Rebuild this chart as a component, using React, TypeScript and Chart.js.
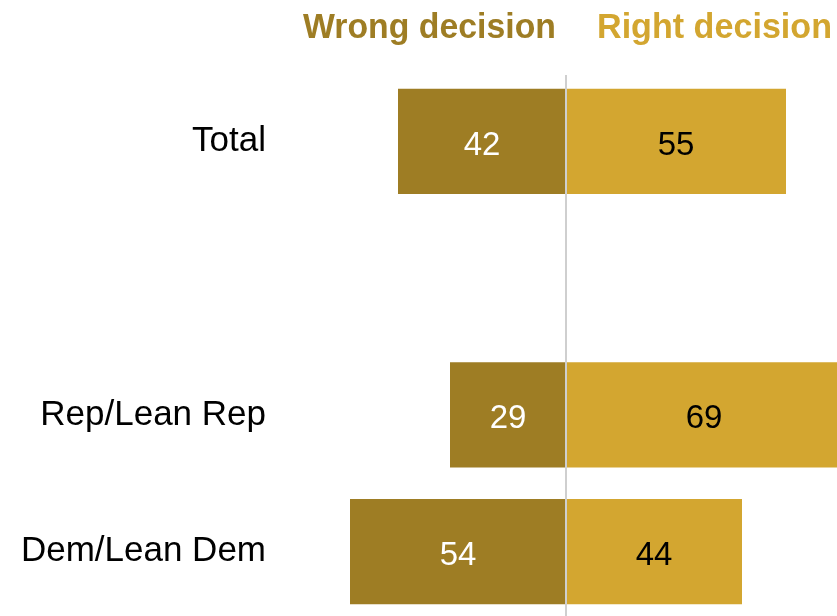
import React, { useEffect, useRef } from "react";
import { Chart, registerables } from "chart.js";

Chart.register(...registerables);

const categories = ["Total", "", "Rep/Lean Rep", "Dem/Lean Dem"];
const wrongValues = [42, null, 29, 54];
const rightValues = [55, null, 69, 44];
const seriesNames = ["Wrong decision", "Right decision"];

const WRONG_COLOR = "#9e7d24";
const RIGHT_COLOR = "#d3a630";

function fitText(ctx: any, text: string, x: number, y: number, width: number, align: "left" | "right") {
  const w = ctx.measureText(text).width;
  const s = width / w;
  ctx.save();
  ctx.translate(x, y);
  ctx.scale(s, 1);
  ctx.textAlign = align;
  ctx.fillText(text, 0, 0);
  ctx.restore();
}

export default function App() {
  const ref = useRef<HTMLCanvasElement>(null);

  useEffect(() => {
    document.body.style.margin = "0";
    const canvas = ref.current;
    if (!canvas) return;

    const overlay = {
      id: "overlay",
      afterDatasetsDraw(chart: any) {
        const ctx = chart.ctx;
        const xs = chart.scales.x;
        const x0 = xs.getPixelForValue(0);
        ctx.save();
        // center line
        ctx.strokeStyle = "#cfcfcf";
        ctx.lineWidth = 2;
        ctx.beginPath();
        ctx.moveTo(x0, 75);
        ctx.lineTo(x0, chart.height);
        ctx.stroke();
        // headers
        ctx.font = "bold 35px 'Liberation Sans', Arial, sans-serif";
        ctx.textBaseline = "alphabetic";
        ctx.fillStyle = WRONG_COLOR;
        fitText(ctx, seriesNames[0], x0 - 10, 38, 253, "right");
        ctx.fillStyle = RIGHT_COLOR;
        fitText(ctx, seriesNames[1], x0 + 31, 38, 235, "left");
        // value labels
        ctx.font = "33px 'Liberation Sans', Arial, sans-serif";
        ctx.textAlign = "center";
        ctx.textBaseline = "alphabetic";
        chart.data.datasets.forEach((ds: any, di: number) => {
          const meta = chart.getDatasetMeta(di);
          meta.data.forEach((bar: any, i: number) => {
            const v = ds.data[i];
            if (v === null || v === undefined) return;
            const cx = (bar.x + bar.base) / 2;
            ctx.fillStyle = di === 0 ? "#ffffff" : "#000000";
            ctx.fillText(String(Math.abs(v)), cx, bar.y + 13.5);
          });
        });
        ctx.restore();
      },
    };

    const chart = new Chart(canvas, {
      type: "bar",
      data: {
        labels: categories,
        datasets: [
          {
            label: seriesNames[0],
            data: wrongValues.map((v) => (v === null ? null : -v)),
            backgroundColor: WRONG_COLOR,
            borderWidth: 0,
            barPercentage: 0.77,
            categoryPercentage: 1,
          },
          {
            label: seriesNames[1],
            data: rightValues,
            backgroundColor: RIGHT_COLOR,
            borderWidth: 0,
            barPercentage: 0.77,
            categoryPercentage: 1,
          },
        ],
      },
      options: {
        indexAxis: "y",
        animation: false,
        responsive: false,
        maintainAspectRatio: false,
        layout: { padding: { top: 73, bottom: 0, left: 0, right: 0 } },
        plugins: {
          legend: { display: false },
          tooltip: { enabled: false },
        },
        scales: {
          x: {
            stacked: true,
            display: false,
            min: -71.5,
            max: 67.75,
          },
          y: {
            stacked: true,
            grid: { display: false, drawTicks: false },
            border: { display: false },
            ticks: {
              color: "#000000",
              padding: 14,
              font: { size: 35, family: "'Liberation Sans', Arial, sans-serif" },
            },
            afterFit: (axis: any) => {
              axis.width = 280;
              axis.paddingTop = 0;
              axis.paddingBottom = 0;
            },
          },
        },
      },
      plugins: [overlay],
    });

    return () => chart.destroy();
  }, []);

  return (
    <div style={{ position: "fixed", left: 0, top: 0, width: 837, height: 620 }}>
      <canvas ref={ref} width={837} height={620} style={{ width: 837, height: 620 }} />
    </div>
  );
}
